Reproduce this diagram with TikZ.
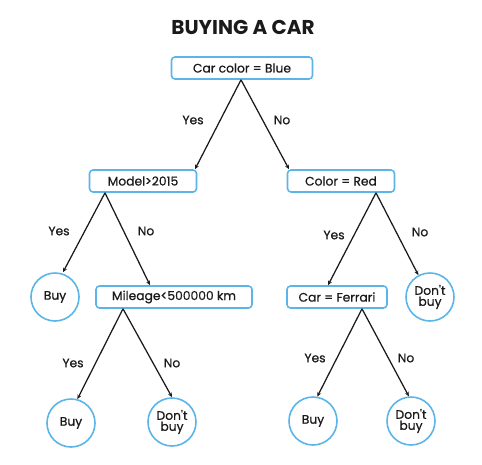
\documentclass[tikz,border=0pt]{standalone}
\usepackage{fontspec}
\setmainfont{Poppins}
\newfontfamily\medfont{Poppins}[FakeBold=0.7]
\usetikzlibrary{arrows.meta}
\definecolor{boxblue}{HTML}{5BB5E8}
\definecolor{inkc}{HTML}{1A1A1A}
\begin{document}
\begin{tikzpicture}[x=1pt,y=-1pt,
  test/.style={draw=boxblue,line width=1.6pt,rounded corners=3.5pt,minimum height=22pt,inner sep=0pt,font=\medfont\fontsize{12.3}{14}\selectfont,text=inkc},
  leaf/.style={draw=boxblue,line width=1.6pt,circle,minimum size=48pt,inner sep=0pt,align=center,font=\medfont\fontsize{12.3}{14}\selectfont,text=inkc},
  edge/.style={draw=inkc,line width=1.25pt,-{Stealth[length=4.5pt,width=4pt]}},
  lbl/.style={font=\medfont\fontsize{12.3}{14}\selectfont,text=inkc}]
\useasboundingbox (0,0) rectangle (482,464);
\node[font=\bfseries\fontsize{20}{22}\selectfont,text=inkc] (title) at (243,27) {BUYING A CAR};
\node[test,minimum width=141pt] (root) at (242,68) {Car color = Blue};
\node[test,minimum width=107pt] (model) at (143,181) {Model>2015};
\node[test,minimum width=107pt] (red) at (341,181) {Color = Red};
\node[leaf] (buyA) at (55,297) {Buy};
\node[test,minimum width=156pt] (mile) at (174,297) {Mileage<500000 km};
\node[test,minimum width=100pt] (ferr) at (337,297) {Car = Ferrari};
\node[leaf] (dbA) at (430,297) {Don't\\[-3pt]buy};
\node[leaf] (buyB) at (71,423) {Buy};
\node[leaf] (dbB) at (172,422) {Don't\\[-3pt]buy};
\node[leaf] (buyC) at (313,421) {Buy};
\node[leaf] (dbC) at (411,421) {Don't\\[-3pt]buy};
% edges
\draw[edge] ([xshift=-1pt]root.south) -- ([xshift=52pt]model.north);
\draw[edge] ([xshift=-1pt]root.south) -- ([xshift=-52pt]red.north);
\draw[edge] ([xshift=-38pt]model.south) -- ([xshift=8pt]buyA.north);
\draw[edge] ([xshift=-38pt]model.south) -- ([xshift=-24pt]mile.north);
\draw[edge] ([xshift=35pt]red.south) -- ([xshift=-9pt]ferr.north);
\draw[edge] ([xshift=35pt]red.south) -- (dbA.118);
\draw[edge] ([xshift=-51pt]mile.south) -- (buyB.75);
\draw[edge] ([xshift=-51pt]mile.south) -- (dbB.north);
\draw[edge] ([xshift=25pt]ferr.south) -- (buyC.80);
\draw[edge] ([xshift=25pt]ferr.south) -- (dbC.95);
% labels
\node[lbl] (l1) at (193,120) {Yes};
\node[lbl] (l2) at (282,120) {No};
\node[lbl] (l3) at (59,231) {Yes};
\node[lbl] (l4) at (146,231) {No};
\node[lbl] (l5) at (334,235) {Yes};
\node[lbl] (l6) at (420,232) {No};
\node[lbl] (l7) at (73,363) {Yes};
\node[lbl] (l8) at (172,363) {No};
\node[lbl] (l9) at (315,358) {Yes};
\node[lbl] (l10) at (406,358) {No};
\end{tikzpicture}
\end{document}
